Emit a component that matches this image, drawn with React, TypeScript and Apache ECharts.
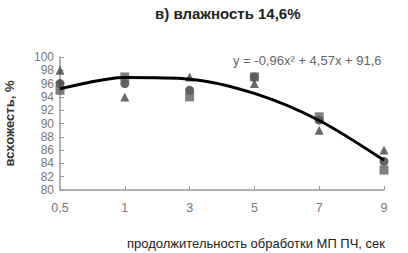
import React, { useEffect, useRef } from "react";
import * as echarts from "echarts";

const categories = ["0,5", "1", "3", "5", "7", "9"];
const triangleValues = [98, 94, 97, 96, 89, 86];
const squareValues = [95, 97, 94, 97, 91, 83];
const circleValues = [96, 96, 95, 97, 90.5, 84.3];
const trendValues = [95.21, 96.9, 96.67, 94.52, 90.45, 84.46];
const yTicks = { min: 80, max: 100, interval: 2 };
const titleText = "в) влажность 14,6%";
const equationText = "y = -0,96x² + 4,57x + 91,6";
const yName = "всхожесть, %";
const xName = "продолжительность обработки МП ПЧ, сек";

export default function App() {
  const ref = useRef<HTMLDivElement>(null);
  useEffect(() => {
    document.body.style.margin = "0";
    if (!ref.current) return;
    const chart = echarts.init(ref.current, undefined, { renderer: "svg" });
    const font = "'Liberation Sans', Arial, sans-serif";
    chart.setOption({
      animation: false,
      backgroundColor: "#ffffff",
      textStyle: { fontFamily: font },
      title: {
        text: titleText,
        left: 150,
        top: 1,
        textStyle: { fontSize: 15, fontWeight: "bold", color: "#222", fontFamily: font },
      },
      grid: { left: 60, right: 24, top: 57, bottom: 63, containLabel: false, outerBoundsMode: "none" },
      xAxis: {
        type: "category",
        data: categories,
        boundaryGap: false,
        axisLine: { lineStyle: { color: "#999", width: 1.5 } },
        axisTick: { show: true, inside: true, length: 4, lineStyle: { color: "#999" } },
        axisLabel: { color: "#777", fontSize: 12.5, margin: 11 },
        splitLine: { show: false },
      },
      yAxis: {
        type: "value",
        min: yTicks.min,
        max: yTicks.max,
        interval: yTicks.interval,
        name: yName,
        nameLocation: "middle",
        nameRotate: 90,
        nameGap: 44,
        nameTextStyle: { fontSize: 13, fontWeight: "bold", color: "#333", padding: [0, 0, 0, 0] },
        axisLine: { show: true, lineStyle: { color: "#999", width: 1.5 } },
        axisTick: { show: true, inside: true, length: 4, lineStyle: { color: "#999" } },
        axisLabel: { color: "#777", fontSize: 12, margin: 6 },
        splitLine: { show: false },
      },
      series: [
        {
          type: "scatter",
          data: circleValues,
          symbol: "circle",
          symbolSize: 9,
          itemStyle: { color: "#3a3a3a" },
          z: 2,
        },
        {
          type: "scatter",
          data: squareValues,
          symbol: "rect",
          symbolSize: 9,
          itemStyle: { color: "#5e5e5e" },
          z: 3,
        },
        {
          type: "scatter",
          data: triangleValues,
          symbol: "triangle",
          symbolSize: 9,
          itemStyle: { color: "#444" },
          z: 4,
        },
        {
          type: "line",
          data: trendValues,
          smooth: 0.3,
          showSymbol: false,
          lineStyle: { color: "#000", width: 3 },
          z: 5,
        },
      ],
      graphic: [
        {
          type: "text",
          left: 233,
          top: 54,
          style: { text: equationText, fontSize: 13, fill: "#666", fontFamily: font },
        },
        {
          type: "text",
          right: 23,
          top: 237,
          style: { text: xName, fontSize: 13, fill: "#222", fontFamily: font },
        },
      ],
    });
    return () => chart.dispose();
  }, []);
  return <div ref={ref} style={{ width: 408, height: 253 }} />;
}
